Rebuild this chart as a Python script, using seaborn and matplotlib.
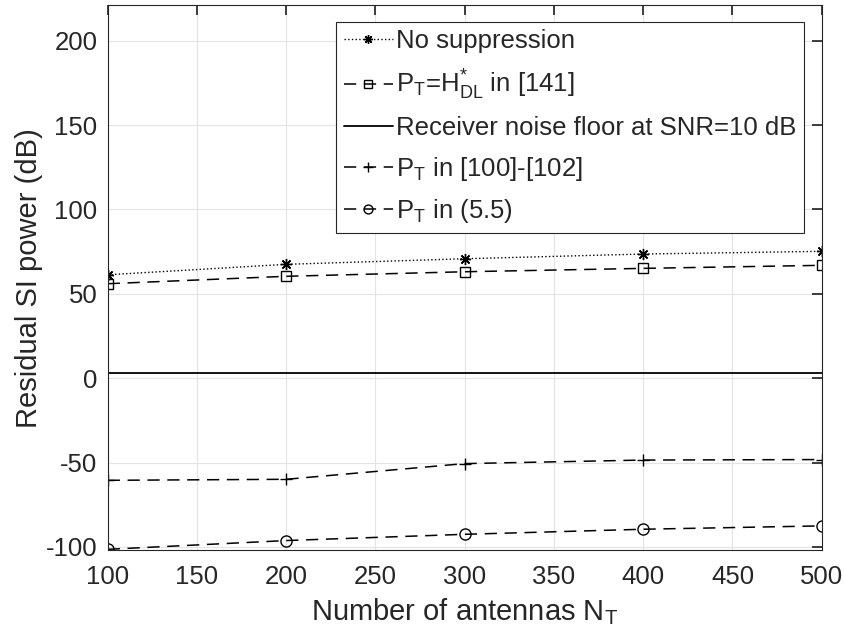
import matplotlib
matplotlib.use("Agg")
import matplotlib.pyplot as plt
import seaborn as sns
import pandas as pd
import numpy as np

antennas = [100, 200, 300, 400, 500]
no_suppression = [61.3, 67.5, 70.8, 73.6, 75.2]
pt_hdl = [56.0, 60.4, 63.1, 65.1, 66.9]
noise_floor = [3.0, 3.0, 3.0, 3.0, 3.0]
pt_100_102 = [-60.5, -59.9, -50.6, -48.5, -48.2]
pt_55 = [-101.4, -96.2, -92.5, -89.5, -87.5]

labels = ["No suppression",
          r"P$_\mathregular{T}$=H$^{*}_\mathregular{DL}$ in [141]",
          "Receiver noise floor at SNR=10 dB",
          r"P$_\mathregular{T}$ in [100]-[102]",
          r"P$_\mathregular{T}$ in (5.5)"]
x_ticks = [100, 150, 200, 250, 300, 350, 400, 450, 500]
y_ticks = [-100, -50, 0, 50, 100, 150, 200]

sns.set_theme(style="whitegrid")
plt.rcParams['font.family'] = ['Liberation Sans', 'DejaVu Sans']
plt.rcParams['mathtext.fontset'] = 'custom'
plt.rcParams['mathtext.rm'] = 'Liberation Sans'
plt.rcParams['mathtext.it'] = 'Liberation Sans'
plt.rcParams['axes.unicode_minus'] = False

fig = plt.figure(figsize=(8.45, 6.41), dpi=100)
ax = fig.add_axes([107.7 / 845, (641 - 550) / 641, 714 / 845, 544.7 / 641])
ax.set_facecolor('white')

dash = (0, (8, 5))
series = [no_suppression, pt_hdl, noise_floor, pt_100_102, pt_55]
styles = [dict(linestyle=':', marker=(8, 2, 0), markersize=8, linewidth=1.0),
          dict(linestyle=dash, marker='s', markersize=7, markerfacecolor='none', linewidth=1.1),
          dict(linestyle='-', marker=None, linewidth=1.3),
          dict(linestyle=dash, marker='+', markersize=9, linewidth=1.1),
          dict(linestyle=dash, marker='o', markersize=8, markerfacecolor='none', linewidth=1.1)]

for vals, lab, st in zip(series, labels, styles):
    df = pd.DataFrame({"N": antennas, "P": vals})
    sns.lineplot(data=df, x="N", y="P", ax=ax, color='black', label=lab,
                 markeredgecolor='black', markeredgewidth=1.0, **st)

ax.set_xlim(100, 500)
ax.set_ylim(-101.8, 221)
ax.set_xticks(x_ticks)
ax.set_yticks(y_ticks)
ax.tick_params(axis='both', labelsize=18.5, colors='#262626', direction='in', length=7,
               top=True, right=True)
ax.tick_params(axis='x', pad=11)
ax.tick_params(axis='y', pad=7.5)
ax.grid(True, color='#e3e3e3', linewidth=0.8)
for s in ax.spines.values():
    s.set_color('#262626')
    s.set_linewidth(0.8)
ax.set_xlabel(r"Number of antennas N$_\mathregular{T}$", fontsize=21, color='#262626', labelpad=5)
ax.set_ylabel("Residual SI power (dB)", fontsize=21, color='#262626', labelpad=2)

leg = ax.legend(loc='upper right', bbox_to_anchor=(0.9752, 0.9699), fontsize=18.5,
                frameon=True, fancybox=False, handlelength=1.9, handletextpad=0.12,
                borderpad=0.3, labelspacing=0.56, borderaxespad=0, markerscale=0.8)
leg.get_frame().set_edgecolor('#262626')
leg.get_frame().set_linewidth(0.8)
leg.get_frame().set_alpha(1)

fig.savefig("out.png", dpi=100)
